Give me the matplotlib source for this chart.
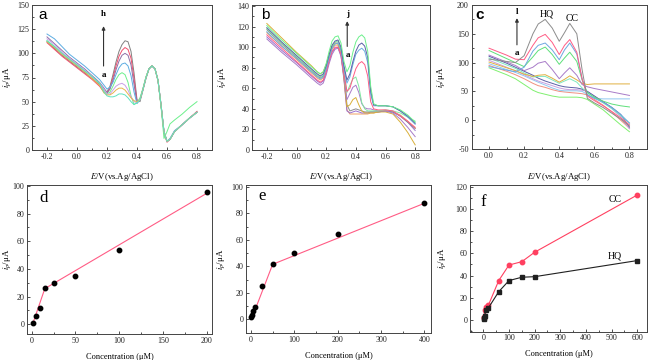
import matplotlib
matplotlib.use("Agg")
import matplotlib.pyplot as plt
from matplotlib.ticker import MultipleLocator, AutoMinorLocator, FormatStrFormatter

plt.rcParams['font.family'] = ['Liberation Serif', 'DejaVu Serif']
plt.rcParams['mathtext.fontset'] = 'stix'
plt.rcParams['axes.unicode_minus'] = False

# ---------------- Panel a data ----------------
V_a = [-0.2, -0.15, -0.1, -0.05, 0.0, 0.05, 0.1, 0.15, 0.18, 0.2, 0.22, 0.24, 0.26, 0.28, 0.3,
       0.32, 0.34, 0.36, 0.38, 0.4, 0.42, 0.44, 0.46, 0.48, 0.5, 0.52, 0.54, 0.56, 0.58, 0.6,
       0.62, 0.65, 0.7, 0.75, 0.8]
a_h = [112, 105, 98, 92, 86, 80, 74, 68, 63, 60, 66, 78, 91, 102, 109, 113, 112, 102, 80, 52,
       50, 62, 74, 84, 87, 84, 72, 47, 19, 9, 11, 19, 26, 33, 39]
a_g = [111, 104, 97, 91, 85, 79, 73, 66, 60, 59, 64, 75, 87, 97, 103, 106, 104, 95, 74, 50,
       52, 63, 75, 84, 87, 84, 72, 46, 18, 8, 11, 19, 26, 33, 40]
a_f = [117, 110, 103, 96, 90, 84, 77, 70, 64, 59, 63, 72, 83, 92, 98, 100, 98, 88, 68, 49,
       52, 63, 75, 84, 87, 84, 72, 47, 19, 9, 11, 19, 26, 33, 39]
a_e = [120, 115, 107, 99, 93, 87, 80, 73, 67, 63, 65, 70, 78, 85, 89, 90, 87, 77, 60, 48,
       52, 63, 75, 84, 87, 84, 72, 47, 19, 9, 12, 20, 26, 33, 39]
a_d = [113, 107, 100, 94, 88, 82, 76, 69, 62, 58, 60, 66, 73, 78, 80, 78, 70, 56, 47, 49,
       54, 64, 76, 84, 87, 84, 72, 45, 12, 19, 27, 31, 37, 44, 50]
a_c = [115, 109, 101, 95, 89, 83, 76, 69, 63, 58, 58, 62, 66, 68, 69, 67, 62, 55, 50, 49,
       52, 63, 75, 84, 87, 84, 72, 47, 19, 9, 11, 19, 26, 33, 39]
a_b = [112, 106, 99, 93, 87, 81, 74, 67, 59, 57, 57, 59, 62, 64, 64, 62, 58, 54, 51, 50,
       52, 63, 75, 84, 87, 84, 72, 47, 19, 9, 11, 19, 26, 33, 39]
a_a = [113, 107, 100, 94, 88, 82, 76, 69, 60, 56, 55, 55, 56, 58, 58, 57, 54, 50, 47, 49,
       52, 63, 75, 84, 87, 84, 72, 47, 19, 9, 11, 19, 26, 33, 39]
curves_a = [a_h, a_g, a_f, a_e, a_d, a_c, a_b, a_a]
colors_a = ['#808080', '#F0506E', '#8E6FA6', '#5DADE2', '#6CF08C', '#C9A0E6', '#E8B34A', '#5FE3C0']

# ---------------- Panel b data ----------------
V_b = [-0.2, -0.1, 0.0, 0.1, 0.14, 0.16, 0.18, 0.2, 0.22, 0.24, 0.26, 0.28, 0.3, 0.32, 0.34,
       0.36, 0.38, 0.4, 0.42, 0.44, 0.46, 0.48, 0.5, 0.52, 0.55, 0.6, 0.65, 0.7, 0.75, 0.8]
b_j = [121, 107, 94, 81, 76, 74, 76, 84, 96, 106, 110, 111, 104, 86, 76, 82, 95, 105, 110, 112,
       109, 96, 62, 45, 43, 43, 42, 39, 34, 27]
b_i = [119, 105, 92, 79, 74, 72, 74, 82, 93, 102, 106, 107, 100, 82, 68, 74, 86, 96, 102, 104,
       101, 90, 58, 44, 43, 43, 42, 38, 33, 26]
b_h = [115, 101, 89, 76, 71, 69, 71, 79, 90, 99, 103, 104, 97, 79, 65, 71, 83, 93, 97, 99,
       96, 85, 54, 43, 43, 43, 42, 38, 32, 25]
b_g = [112, 99, 86, 73, 68, 66, 68, 76, 87, 96, 100, 100, 93, 74, 57, 60, 70, 79, 84, 86,
       83, 72, 47, 40, 39, 39, 38, 33, 28, 22]
b_f = [118, 104, 91, 78, 73, 71, 73, 81, 92, 101, 105, 106, 98, 78, 56, 63, 69, 71, 62, 46,
       40, 38, 38, 38, 38, 39, 38, 36, 32, 28]
b_e = [108, 95, 83, 70, 65, 63, 65, 73, 84, 93, 98, 99, 91, 72, 49, 55, 61, 63, 56, 45,
       41, 40, 40, 39, 38, 38, 36, 30, 22, 13]
b_d = [123, 109, 95, 82, 76, 74, 76, 83, 93, 101, 104, 103, 95, 70, 42, 44, 49, 51, 44, 38,
       36, 36, 36, 36, 37, 37, 35, 27, 17, 5]
b_c = [117, 103, 90, 77, 72, 70, 72, 80, 91, 100, 104, 104, 96, 76, 44, 38, 39, 40, 39, 38,
       37, 37, 37, 37, 37, 38, 37, 33, 27, 21]
b_b = [110, 97, 85, 72, 67, 65, 67, 75, 86, 95, 99, 100, 92, 68, 38, 36, 37, 38, 37, 36,
       36, 36, 37, 37, 37, 38, 37, 33, 27, 19]
b_a = [114, 101, 88, 75, 70, 68, 70, 78, 89, 98, 102, 102, 94, 70, 39, 35, 35, 35, 35, 35,
       35, 35, 36, 36, 37, 38, 37, 34, 28, 21]
curves_b = [b_a, b_b, b_c, b_d, b_e, b_f, b_g, b_h, b_i, b_j]
colors_b = ['#F0A060', '#9B6FCF', '#8C8C8C', '#D9B03A', '#A87BC8', '#80E8A0', '#FF5C85',
            '#6AAEE0', '#5B5EA6', '#6CF08C']

# ---------------- Panel c data ----------------
V_c = [0.0, 0.05, 0.1, 0.15, 0.2, 0.25, 0.28, 0.32, 0.36, 0.4, 0.43, 0.46, 0.5, 0.53, 0.56,
       0.6, 0.65, 0.7, 0.75, 0.8]
c_l = [106, 104, 102, 100, 112, 150, 167, 175, 160, 137, 152, 168, 150, 88, 38, 30, 22, 12, 2, -10]
c_k = [125, 119, 113, 106, 105, 130, 143, 149, 135, 114, 130, 140, 118, 72, 42, 34, 25, 15, 4, -8]
c_j = [93, 90, 87, 84, 92, 120, 130, 134, 122, 105, 122, 134, 115, 72, 44, 38, 31, 22, 10, -5]
c_i = [121, 114, 107, 100, 93, 110, 121, 127, 114, 97, 108, 118, 102, 70, 48, 40, 33, 28, 25, 23]
c_h = [113, 107, 101, 95, 86, 92, 99, 102, 88, 72, 82, 91, 78, 62, 58, 55, 52, 49, 46, 43]
c_g = [101, 96, 91, 86, 80, 76, 78, 79, 73, 66, 71, 77, 70, 64, 62, 63, 63, 63, 63, 63]
c_f = [108, 102, 96, 90, 82, 75, 76, 76, 70, 64, 68, 72, 66, 56, 48, 40, 30, 20, 8, -5]
c_e = [111, 105, 99, 92, 85, 78, 73, 68, 64, 60, 58, 57, 56, 54, 50, 42, 32, 22, 10, -12]
c_d = [104, 98, 92, 86, 79, 72, 68, 64, 60, 56, 54, 53, 53, 52, 50, 42, 32, 20, 6, -15]
c_c = [98, 93, 88, 83, 77, 70, 66, 61, 56, 52, 51, 51, 51, 50, 45, 38, 37, 37, 37, 37]
c_b = [91, 85, 79, 72, 62, 52, 48, 45, 42, 40, 40, 40, 40, 39, 36, 28, 18, 5, -8, -20]
c_a = [95, 90, 85, 79, 72, 64, 60, 57, 53, 50, 49, 48, 47, 46, 44, 36, 26, 14, 0, -14]
curves_c = [c_a, c_b, c_c, c_d, c_e, c_f, c_g, c_h, c_i, c_j, c_k, c_l]
colors_c = ['#F09080', '#80F070', '#90C8F0', '#C8A0E0', '#5B5EA6', '#7FE8C0', '#E0B040',
            '#A87BC8', '#5EE07A', '#6EA8E0', '#FF5C85', '#8C8C8C']

# ---------------- Panel d data ----------------
conc_d = [1, 5, 10, 15, 25, 50, 100, 200]
ip_d = [1, 6, 11.5, 26.5, 30, 35, 54, 95.5]
fit_d_x = [1, 15, 200]
fit_d_y = [0, 25.8, 94.7]

# ---------------- Panel e data ----------------
conc_e = [1, 2, 5, 10, 25, 50, 100, 200, 400]
ip_e = [1.5, 3, 6, 9.3, 25, 41.5, 49.7, 64, 87.4]
fit_e_x = [1, 50, 400]
fit_e_y = [0, 41.5, 87.5]

# ---------------- Panel f data ----------------
conc_f = [1, 2, 5, 10, 20, 60, 100, 150, 200, 600]
ip_cc = [1.5, 3, 9, 11.5, 13.5, 35.5, 49.5, 52.5, 61, 112.5]
ip_hq = [0.5, 1.5, 3.5, 9, 11, 25.5, 35.5, 38.5, 39, 53.5]

W, H = 652, 360
fig = plt.figure(figsize=(W / 100, H / 100), dpi=100)


def add_ax(l, r, t, b):
    return fig.add_axes([l / W, 1 - b / H, (r - l) / W, (b - t) / H])


TICK_FS = 5.8
LAB_FS = 6.3


def style(ax, xmaj, ymaj, xfmt=None):
    ax.xaxis.set_major_locator(MultipleLocator(xmaj))
    ax.yaxis.set_major_locator(MultipleLocator(ymaj))
    ax.xaxis.set_minor_locator(AutoMinorLocator(2))
    ax.yaxis.set_minor_locator(AutoMinorLocator(2))
    if xfmt:
        ax.xaxis.set_major_formatter(FormatStrFormatter(xfmt))
    ax.tick_params(which='both', direction='in', labelsize=TICK_FS, pad=2, width=0.6,
                   colors='#333333', labelcolor='#222222')
    ax.tick_params(which='major', length=2.5)
    ax.tick_params(which='minor', length=1.5)
    for s in ax.spines.values():
        s.set_linewidth(0.7)
        s.set_color('#444444')


ylab = r'$i_p$/μA'
xlab_cv = r'$E$/V(vs.Ag/AgCl)'
xlab_c = 'Concentration (μM)'

# Panel a
ax = add_ax(32, 212, 5, 150)
for y, col in zip(curves_a, colors_a):
    ax.plot(V_a, y, color=col, lw=0.7)
ax.set_xlim(-0.3, 0.9)
ax.set_ylim(0, 150)
style(ax, 0.2, 25, '%.1f')
ax.set_xlabel(xlab_cv, fontsize=LAB_FS)
ax.set_ylabel(ylab, fontsize=LAB_FS)
ax.xaxis.set_label_coords(0.5, -0.145)
ax.yaxis.set_label_coords(-0.108, 0.5)
ax.text(0.06, 0.93, 'a', transform=ax.transAxes, fontsize=11, family='Liberation Sans',
        ha='center', va='center')
ax.annotate('', xy=(0.177, 131), xytext=(0.177, 84),
            arrowprops=dict(arrowstyle='-|>', lw=0.8, color='#333333', mutation_scale=5))
ax.text(0.177, 78, 'a', fontsize=6.5, weight='bold', ha='center', va='center')
ax.text(0.177, 141, 'h', fontsize=6.5, weight='bold', ha='center', va='center')

# Panel b
ax = add_ax(252, 430, 5, 150)
for y, col in zip(curves_b, colors_b):
    ax.plot(V_b, y, color=col, lw=0.7)
ax.set_xlim(-0.3, 0.9)
ax.set_ylim(0, 141)
style(ax, 0.2, 20, '%.1f')
ax.set_xlabel(xlab_cv, fontsize=LAB_FS)
ax.set_ylabel(ylab, fontsize=LAB_FS)
ax.xaxis.set_label_coords(0.5, -0.145)
ax.yaxis.set_label_coords(-0.135, 0.5)
ax.text(0.075, 0.93, 'b', transform=ax.transAxes, fontsize=11, family='Liberation Sans',
        ha='center', va='center')
ax.annotate('', xy=(0.342, 128), xytext=(0.342, 98),
            arrowprops=dict(arrowstyle='-|>', lw=0.8, color='#333333', mutation_scale=5))
ax.text(0.348, 92.5, 'a', fontsize=6.5, weight='bold', ha='center', va='center')
ax.text(0.342, 132.5, 'j', fontsize=6.5, weight='bold', ha='center', va='center')

# Panel c
ax = add_ax(471.5, 647, 5, 149)
for y, col in zip(curves_c, colors_c):
    ax.plot(V_c, y, color=col, lw=0.7)
ax.set_xlim(-0.1, 0.9)
ax.set_ylim(-50, 200)
style(ax, 0.2, 50, '%.1f')
ax.set_xlabel(xlab_cv, fontsize=LAB_FS)
ax.set_ylabel(ylab, fontsize=LAB_FS)
ax.xaxis.set_label_coords(0.5, -0.15)
ax.yaxis.set_label_coords(-0.14, 0.5)
ax.text(0.045, 0.93, 'c', transform=ax.transAxes, fontsize=11, family='Liberation Sans',
        weight='bold', ha='center', va='center')
ax.annotate('', xy=(0.159, 182), xytext=(0.159, 126),
            arrowprops=dict(arrowstyle='-|>', lw=0.8, color='#333333', mutation_scale=5))
ax.text(0.159, 117, 'a', fontsize=6.5, weight='bold', ha='center', va='center')
ax.text(0.159, 188, 'l', fontsize=6.5, weight='bold', ha='center', va='center')
ax.text(0.331, 184, 'HQ', fontsize=7, ha='center', va='center')
ax.text(0.476, 177, 'CC', fontsize=7, ha='center', va='center')

# Panel d
ax = add_ax(27.3, 212, 185, 334)
ax.plot(fit_d_x, fit_d_y, color='#FF5C85', lw=0.8)
ax.plot(conc_d, ip_d, 'o', color='black', ms=3.2)
ax.set_xlim(-5, 206)
ax.set_ylim(-7, 100.7)
style(ax, 50, 20)
ax.set_xlabel(xlab_c, fontsize=6)
ax.set_ylabel(ylab, fontsize=LAB_FS)
ax.xaxis.set_label_coords(0.5, -0.125)
ax.yaxis.set_label_coords(-0.078, 0.5)
ax.text(0.087, 0.915, 'd', transform=ax.transAxes, fontsize=12, ha='center', va='center')

# Panel e
ax = add_ax(246, 431, 185, 333)
ax.plot(fit_e_x, fit_e_y, color='#FF5C85', lw=0.8)
ax.plot(conc_e, ip_e, 'o', color='black', ms=3.2)
ax.set_xlim(-11.5, 415.4)
ax.set_ylim(-10.3, 101.3)
style(ax, 100, 20)
ax.set_xlabel(xlab_c, fontsize=6)
ax.set_ylabel(ylab, fontsize=LAB_FS)
ax.xaxis.set_label_coords(0.5, -0.125)
ax.yaxis.set_label_coords(-0.105, 0.5)
ax.text(0.088, 0.925, 'e', transform=ax.transAxes, fontsize=12, ha='center', va='center')

# Panel f
ax = add_ax(470, 647, 185, 331.7)
ax.plot(conc_f, ip_cc, '-o', color='#FF4060', lw=0.8, ms=3.2)
ax.plot(conc_f, ip_hq, '-s', color='#202020', lw=0.8, ms=2.8)
ax.set_xlim(-52, 638)
ax.set_ylim(-10.5, 121.5)
style(ax, 100, 20)
ax.set_xlabel(xlab_c, fontsize=6)
ax.set_ylabel(ylab, fontsize=LAB_FS)
ax.xaxis.set_label_coords(0.5, -0.125)
ax.yaxis.set_label_coords(-0.125, 0.5)
ax.text(0.075, 0.885, 'f', transform=ax.transAxes, fontsize=12, ha='center', va='center')
ax.text(513, 108.6, 'CC', fontsize=7, ha='center', va='center')
ax.text(513, 57.6, 'HQ', fontsize=7, ha='center', va='center')

fig.savefig('out.png', dpi=100)
